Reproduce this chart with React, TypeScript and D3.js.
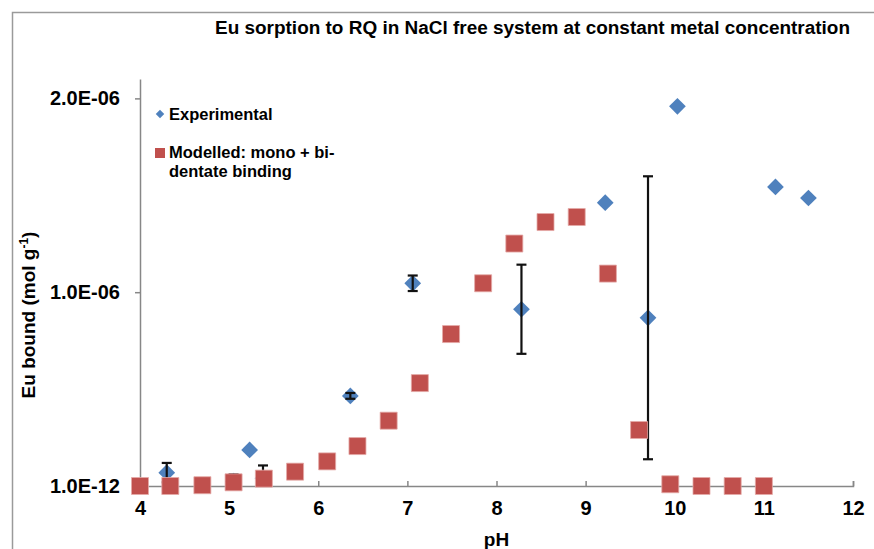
import React, { useEffect, useRef } from "react";
import * as d3 from "d3";

// Experimental series (blue diamonds) with +/- error
const expPH = [4.3, 5.05, 5.38, 5.23, 6.36, 7.06, 8.28, 9.22, 9.7, 10.03, 11.13, 11.5];
const expBound = [0.069e-6, 0.025e-6, 0.04e-6, 0.186e-6, 0.465e-6, 1.046e-6, 0.912e-6, 1.462e-6, 0.868e-6, 1.959e-6, 1.543e-6, 1.486e-6];
const expErr = [0.05e-6, 0.035e-6, 0.066e-6, 0, 0.015e-6, 0.04e-6, 0.23e-6, 0, 0.73e-6, 0, 0, 0];

// Modelled series (red squares)
const modPH = [4.0, 4.34, 4.7, 5.05, 5.39, 5.74, 6.1, 6.44, 6.79, 7.14, 7.49, 7.85, 8.2, 8.55, 8.9, 9.25, 9.6, 9.95, 10.3, 10.65, 11.0];
const modBound = [0, 0, 0.004e-6, 0.019e-6, 0.038e-6, 0.074e-6, 0.127e-6, 0.206e-6, 0.337e-6, 0.531e-6, 0.784e-6, 1.046e-6, 1.251e-6, 1.362e-6, 1.388e-6, 1.096e-6, 0.289e-6, 0.009e-6, 0, 0, 0];

const xTicks = [4, 5, 6, 7, 8, 9, 10, 11, 12];
const yTicks = [1e-12, 1e-6, 2e-6];
const yTickLabels = ["1.0E-12", "1.0E-06", "2.0E-06"];

const blue = "#4F81BD";
const red = "#C0504D";
const font = "'Liberation Sans', Arial, sans-serif";

function App() {
  const svgRef = useRef<SVGSVGElement>(null);
  const width = 874;
  const height = 549;

  useEffect(() => {
    const svg = d3.select(svgRef.current);
    svg.selectAll("*").remove();

    const left = 140, right = 853, top = 79, bottom = 486;
    const x = d3.scaleLinear().domain([4, 12]).range([left, right]);
    const y = d3.scaleLinear().domain([1e-12, 2.1e-6]).range([bottom, top]);

    // outer frame
    svg.append("path")
      .attr("d", `M12.5,${height} L12.5,12.5 L${width},12.5`)
      .attr("fill", "none")
      .attr("stroke", "#9a9a9a")
      .attr("stroke-width", 1.5);

    // title
    svg.append("text")
      .attr("x", 850).attr("y", 34)
      .attr("text-anchor", "end")
      .style("font-family", font)
      .style("font-weight", "bold")
      .style("font-size", "17.5px")
      .attr("textLength", 635)
      .attr("lengthAdjust", "spacingAndGlyphs")
      .text("Eu sorption to RQ in NaCl free system at constant metal concentration");

    // axes
    const xAxis = d3.axisBottom(x).tickValues(xTicks).tickFormat(d3.format("d"))
      .tickSizeInner(-5).tickSizeOuter(-5).tickPadding(15);
    const gx = svg.append("g").attr("transform", `translate(0,${bottom})`).call(xAxis);

    const yAxis = d3.axisLeft(y).tickValues(yTicks)
      .tickFormat((d, i) => yTickLabels[i])
      .tickSizeInner(5).tickSizeOuter(0).tickPadding(15);
    const gy = svg.append("g").attr("transform", `translate(${left},0)`).call(yAxis);

    [gx, gy].forEach(g => {
      g.attr("font-size", null).attr("font-family", null);
      g.select(".domain").attr("stroke", "#878787").attr("stroke-width", 1.5);
      g.selectAll(".tick line").attr("stroke", "#878787").attr("stroke-width", 1.5);
      g.selectAll(".tick text")
        .style("font-family", font)
        .style("font-weight", "bold")
        .style("font-size", "20px")
        .attr("fill", "#000");
    });

    // axis titles
    svg.append("text")
      .attr("x", (left + right) / 2).attr("y", 546)
      .attr("text-anchor", "middle")
      .style("font-family", font).style("font-weight", "bold").style("font-size", "19px")
      .text("pH");

    const yt = svg.append("text")
      .attr("transform", "translate(35,315) rotate(-90)")
      .attr("text-anchor", "middle")
      .style("font-family", font).style("font-weight", "bold").style("font-size", "19px");
    yt.append("tspan").text("Eu bound (mol g");
    yt.append("tspan").style("font-size", "12px").attr("dy", -7).text("-1");
    yt.append("tspan").attr("dy", 7).text(")");

    // clip for error bars
    svg.append("clipPath").attr("id", "plotclip")
      .append("rect").attr("x", left - 20).attr("y", top).attr("width", right - left + 40).attr("height", bottom - top);

    const exp = expPH.map((p, i) => ({ p, v: expBound[i], e: expErr[i] }));
    const mod = modPH.map((p, i) => ({ p, v: modBound[i] }));

    // experimental diamonds
    const diamond = d3.symbol().type(d3.symbolSquare).size(140);
    svg.append("g").selectAll("path")
      .data(exp)
      .join("path")
      .attr("d", diamond)
      .attr("transform", d => `translate(${x(d.p)},${y(d.v)}) rotate(45)`)
      .attr("fill", blue);

    // error bars
    const eb = svg.append("g").attr("clip-path", "url(#plotclip)")
      .selectAll("g").data(exp.filter(d => d.e > 0)).join("g")
      .attr("stroke", "#111").attr("stroke-width", 2.2);
    eb.append("line")
      .attr("x1", d => x(d.p)).attr("x2", d => x(d.p))
      .attr("y1", d => y(d.v + d.e)).attr("y2", d => y(d.v - d.e));
    eb.append("line")
      .attr("x1", d => x(d.p) - 5).attr("x2", d => x(d.p) + 5)
      .attr("y1", d => y(d.v + d.e)).attr("y2", d => y(d.v + d.e));
    eb.append("line")
      .attr("x1", d => x(d.p) - 5).attr("x2", d => x(d.p) + 5)
      .attr("y1", d => y(d.v - d.e)).attr("y2", d => y(d.v - d.e));

    // modelled squares
    const square = d3.symbol().type(d3.symbolSquare).size(289);
    svg.append("g").selectAll("path")
      .data(mod)
      .join("path")
      .attr("d", square)
      .attr("transform", d => `translate(${x(d.p)},${y(d.v)})`)
      .attr("fill", red)
      .attr("stroke", "#e4a9a7")
      .attr("stroke-width", 0.8);

    // legend
    const lg = svg.append("g").style("font-family", font).style("font-weight", "bold").style("font-size", "16.5px");
    lg.append("path").attr("d", d3.symbol().type(d3.symbolSquare).size(36)())
      .attr("transform", "translate(160,114) rotate(45)").attr("fill", blue);
    lg.append("text").attr("x", 169).attr("y", 120).text("Experimental");
    lg.append("rect").attr("x", 155).attr("y", 148).attr("width", 10).attr("height", 10).attr("fill", red);
    lg.append("text").attr("x", 169).attr("y", 158).text("Modelled: mono + bi-");
    lg.append("text").attr("x", 169).attr("y", 177).text("dentate binding");
  }, []);

  return (
    <svg ref={svgRef} width={width} height={height}
      style={{ position: "absolute", left: 0, top: 0, background: "#fff" }} />
  );
}

export default App;
